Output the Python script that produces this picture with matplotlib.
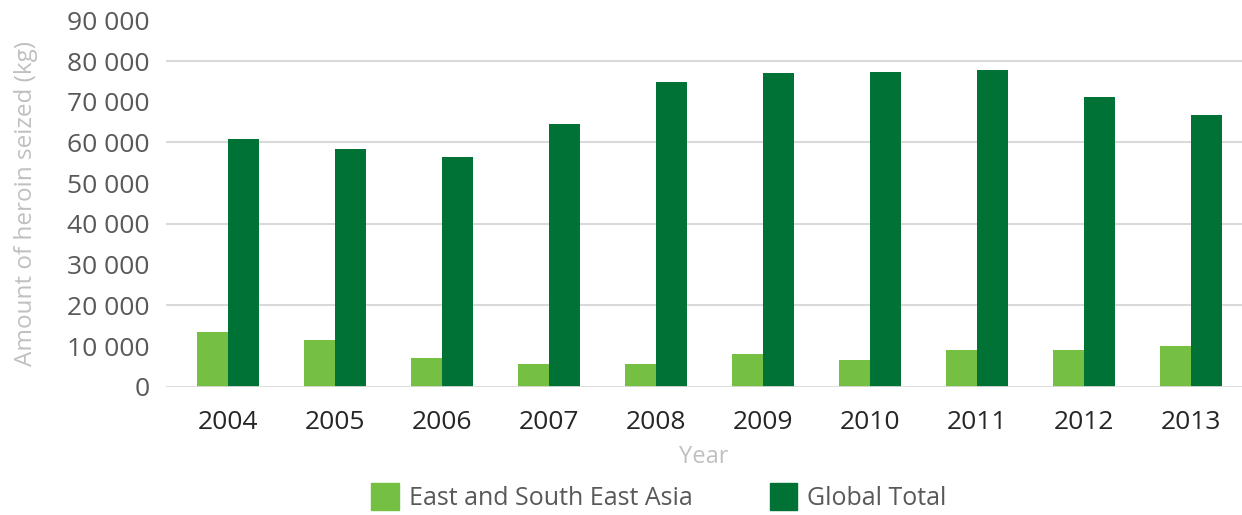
import matplotlib
matplotlib.use("Agg")
import matplotlib.pyplot as plt
import numpy as np
from matplotlib.patches import Patch

years = ["2004", "2005", "2006", "2007", "2008", "2009", "2010", "2011", "2012", "2013"]
east_se_asia = [13400, 11500, 7000, 5600, 5600, 8000, 6600, 9000, 9000, 10000]
global_total = [60900, 58400, 56400, 64500, 74900, 77100, 77300, 77800, 71200, 66700]
series_names = ["East and South East Asia", "Global Total"]
y_ticks = list(range(0, 90001, 10000))

light_green = "#75BF43"
dark_green = "#007236"

plt.rcParams["font.family"] = ["Open Sans", "DejaVu Sans"]

fig = plt.figure(figsize=(12.42, 5.15), dpi=100)
ax = fig.add_axes([0.1337, 0.249, 0.8663, 0.7116])

x = np.arange(len(years))
w = 0.29
ax.bar(x - w / 2, east_se_asia, width=w, color=light_green, zorder=3)
ax.bar(x + w / 2, global_total, width=w, color=dark_green, zorder=3)

ax.set_xlim(-0.58, 9.48)
ax.set_ylim(0, 90000)
ax.set_yticks(y_ticks)
ax.set_yticklabels([f"{v:,}".replace(",", " ") for v in y_ticks],
                   fontsize=19, color="#595959")
ax.set_xticks(x)
ax.set_xticklabels(years, fontsize=19, color="#262626")
ax.tick_params(axis="both", length=0)
ax.tick_params(axis="y", pad=12)
ax.tick_params(axis="x", pad=17)

for v in range(20000, 90000, 20000):
    ax.axhline(v, color="#d9d9d9", linewidth=1.5, zorder=1)
ax.axhline(0, color="#d9d9d9", linewidth=2, zorder=4)

for s in ax.spines.values():
    s.set_visible(False)

ax.set_ylabel("Amount of heroin seized (kg)", fontsize=17.5, color="#c0c0c0", labelpad=21)
ax.set_xlabel("Year", fontsize=17, color="#c0c0c0", labelpad=7)

handles = [Patch(color=light_green), Patch(color=dark_green)]
fig.legend(handles, series_names, loc="center", bbox_to_anchor=(0.5305, 0.035),
           ncol=2, frameon=False, fontsize=18, labelcolor="#595959",
           handlelength=1.1, handleheight=1.3, columnspacing=3.1, handletextpad=0.4)

fig.savefig("out.png", dpi=100)
